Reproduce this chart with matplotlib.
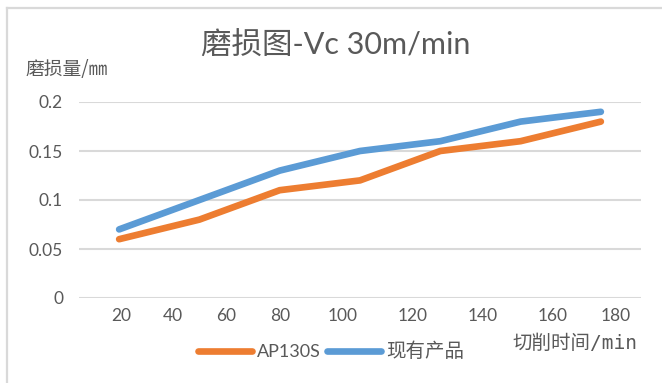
import matplotlib
matplotlib.use("Agg")
import matplotlib.pyplot as plt
from matplotlib.lines import Line2D
from matplotlib.ticker import FuncFormatter

plt.rcParams['font.family'] = ['Lato', 'Noto Sans CJK SC', 'DejaVu Sans']

# wear data, one value per measurement
series_names = ['AP130S', '现有产品']
ap130s = [0.06, 0.08, 0.11, 0.12, 0.15, 0.16, 0.18]
current = [0.07, 0.10, 0.13, 0.15, 0.16, 0.18, 0.19]
time_labels = ['20', '40', '60', '80', '100', '120', '140', '160', '180']
y_ticks = [0, 0.05, 0.1, 0.15, 0.2]

# where the time labels sit along the category axis
label_pos = [0.02, 0.67, 1.33, 2.0, 2.78, 3.65, 4.53, 5.40, 6.18]

orange = '#ED7D31'
blue = '#5B9BD5'
txt = '#595959'
grid = '#d9d9d9'

W, H = 662, 383
fig = plt.figure(figsize=(W / 100, H / 100), dpi=100)
ax = fig.add_axes([79 / W, 1 - 298 / H, 562 / W, 196 / H])

xs = list(range(len(ap130s)))
lw = 4.8
ax.plot(xs, ap130s, color=orange, lw=lw, solid_capstyle='round',
        solid_joinstyle='round', label=series_names[0], zorder=3)
ax.plot(xs, current, color=blue, lw=lw, solid_capstyle='round',
        solid_joinstyle='round', label=series_names[1], zorder=3)

ax.set_xlim(-0.5, len(xs) - 0.5)
ax.set_ylim(0, 0.2)
ax.set_yticks(y_ticks)
ax.yaxis.set_major_formatter(FuncFormatter(lambda v, p: '%g' % v))
ax.set_xticks(label_pos)
ax.set_xticklabels(time_labels)
for s in ax.spines.values():
    s.set_visible(False)
ax.grid(axis='y', color=grid, lw=1.5, zorder=0)
ax.set_axisbelow(True)
ax.tick_params(axis='y', length=0, pad=11.5, labelsize=12.5, labelcolor=txt)
ax.tick_params(axis='x', length=0, pad=7, labelsize=12.5, labelcolor=txt)

# chart title and axis captions
fig.text(336 / W, 1 - 46 / H, '磨损图-Vc 30m/min', ha='center', va='center',
         fontsize=22, color=txt)
fig.text(25 / W, 1 - 70 / H, '磨损量/㎜', ha='left', va='center',
         fontsize=13.5, color=txt, family=['Noto Sans CJK SC'])
fig.text(512 / W, 1 - 343 / H, '切削时间/min', ha='left', va='center',
         fontsize=14, color=txt, family=['DejaVu Sans Mono', 'Noto Sans CJK SC'])

leg = fig.legend(loc='center', bbox_to_anchor=(331 / W, 1 - 351 / H), ncol=2,
                 frameon=False, fontsize=13, handlelength=3.0,
                 handletextpad=0.28, columnspacing=0.35, labelcolor=txt)
for h in leg.legend_handles:
    h.set_linewidth(lw)
leg.get_texts()[1].set_fontsize(14)

# outer chart frame (left and top edges)
fig.add_artist(Line2D([7 / W, 7 / W], [0, 1 - 8 / H], color=grid, lw=1.6))
fig.add_artist(Line2D([7 / W, 1], [1 - 8 / H, 1 - 8 / H], color=grid, lw=1.6))

fig.savefig('out.png', dpi=100)
